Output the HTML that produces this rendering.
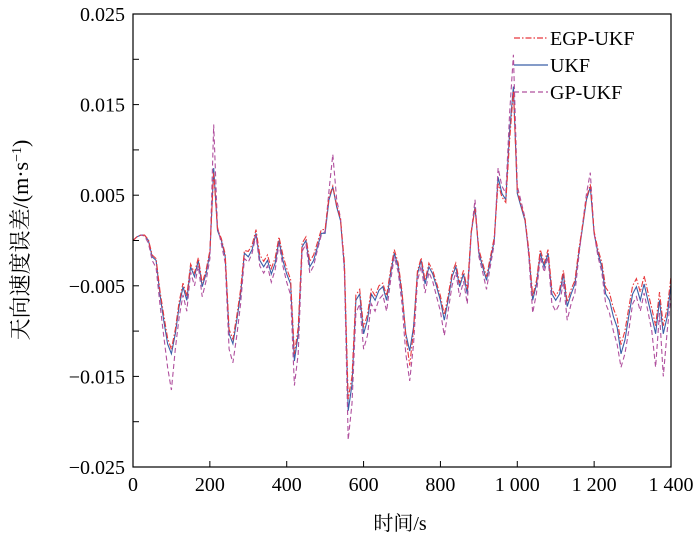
<!DOCTYPE html>
<html><head><meta charset="utf-8"><style>
body{margin:0;background:#fff}
svg{display:block;font-family:"Liberation Serif","Noto Serif CJK SC",serif}
</style></head><body>
<svg width="700" height="540" id="c">
<g id="plot"></g>
<g id="axes"></g>
<g id="legend">
 <g><line x1="514" y1="38" x2="548" y2="38" stroke="#e8383d" stroke-width="1.2" stroke-dasharray="6,2,1.5,2"/><text x="550" y="45" font-size="20">EGP-UKF</text></g>
 <g><line x1="514" y1="65" x2="548" y2="65" stroke="#3a5fa8" stroke-width="1.2"/><text x="550" y="72" font-size="20">UKF</text></g>
 <g><line x1="514" y1="92" x2="548" y2="92" stroke="#b0509e" stroke-width="1.2" stroke-dasharray="5,3"/><text x="550" y="99" font-size="20">GP-UKF</text></g>
</g>
<text x="400" y="530" font-size="20" text-anchor="middle">时间/s</text>
<text transform="translate(28,240) rotate(-90)" font-size="22" text-anchor="middle">天向速度误差/(m·s<tspan baseline-shift="super" font-size="14">−1</tspan>)</text>
</svg>
<script>
const xTicks=[0,200,400,600,800,1000,1200,1400];
const xTickLabels=["0","200","400","600","800","1 000","1 200","1 400"];
const yTicks=[0.025,0.02,0.015,0.01,0.005,0,-0.005,-0.01,-0.015,-0.02,-0.025];
const yTickLabels=["0.025","","0.015","","0.005","","−0.005","","−0.015","","−0.025"];
const step=10;
const ukf=[0,0.4,0.6,0.6,0,-1.8,-2.2,-5.9,-8.8,-11.4,-12.5,-10.3,-7.3,-5.1,-6.6,-2.9,-4,-2.2,-5.1,-3.7,-1.4,8,1.1,0,-1.8,-10.3,-11.4,-8.8,-5.9,-1.4,-1.8,-1,0.8,-2.2,-2.9,-2.2,-3.7,-2.5,0,-2.2,-3.7,-4.8,-13.3,-10.3,-0.7,0,-2.9,-2.2,-0.7,0.8,0.8,4.5,5.9,3.7,2.2,-2.9,-18.8,-15.9,-6.6,-5.9,-10.3,-8.8,-5.9,-6.6,-5.5,-5.1,-6.6,-3.7,-1.4,-2.9,-5.9,-10.3,-12.2,-9.6,-3.7,-2.2,-4.8,-2.9,-3.7,-5.1,-6.6,-8.8,-6.6,-4,-2.9,-5.1,-3.7,-5.9,0.8,3.7,-1.4,-2.9,-4.4,-2.2,0,7,5.2,4.5,12,17,5.2,3.7,2.2,-1.4,-6.6,-4.8,-1.4,-2.9,-1.4,-5.9,-6.6,-5.9,-3.7,-7.3,-5.9,-4.8,-1.4,1.5,4.5,5.9,0.8,-1.4,-2.9,-5.9,-6.6,-8.4,-9.6,-12.5,-11,-8.4,-5.9,-5.1,-6.6,-4.8,-6.6,-8.4,-10.3,-6.6,-10.3,-8.4,-4.8];
const gpukf=[0,0.4,0.6,0.5,-0.3,-2.2,-3,-7,-10.5,-14,-16.5,-12,-8.5,-6,-7.8,-3.5,-5,-2.8,-6.2,-4.5,-2,12.8,1.5,-0.4,-2.5,-12,-13.5,-10.5,-7,-2,-2.4,-1.4,0.6,-2.8,-3.6,-2.8,-4.6,-3.2,-0.4,-2.8,-4.6,-6,-16,-12.5,-1.2,-0.4,-3.6,-2.8,-1,0.6,1,5.5,9.5,4.5,2.5,-3.5,-22,-18,-8,-7,-12,-10.5,-7,-7.8,-6.5,-6,-7.8,-4.5,-1.8,-3.5,-7,-12.5,-15.5,-11.5,-4.5,-2.8,-5.8,-3.5,-4.5,-6.2,-7.8,-10.5,-7.8,-5,-3.5,-6.2,-4.5,-7,0.8,4.5,-1.8,-3.5,-5.4,-2.8,-0.4,8,6,5.2,14,20.5,6,4.3,2.5,-1.8,-8,-5.8,-1.8,-3.5,-1.8,-7,-7.8,-7,-4.5,-8.8,-7,-5.8,-1.8,1.8,5.2,7.5,0.8,-1.8,-3.5,-7,-8,-10,-11.5,-14,-12.5,-10,-7,-6.2,-7.8,-5.8,-7.8,-10,-14,-8,-15,-10,-6];
const egpukf=[0,0.4,0.6,0.6,0.1,-1.6,-2,-5.5,-8.2,-10.8,-12,-9.8,-6.8,-4.7,-6.1,-2.6,-3.6,-1.9,-4.7,-3.3,-1.1,7.5,1.3,0.2,-1.5,-9.8,-10.9,-8.3,-5.4,-1.1,-1.2,-0.5,1.2,-1.6,-2.3,-1.6,-3.1,-1.9,0.4,-1.6,-3.1,-4.3,-12.5,-9.6,-0.3,0.4,-2.3,-1.6,-0.2,1.2,1.2,4.8,6,3.9,2.4,-2.4,-17.5,-15,-6,-5.4,-9.6,-8.2,-5.4,-6.1,-5,-4.7,-6.1,-3.3,-1,-2.5,-5.6,-10.5,-13.8,-10,-3.4,-1.9,-4.4,-2.5,-3.3,-4.7,-6.1,-8.2,-6.1,-3.6,-2.5,-4.7,-3.3,-5.4,1,3.5,-1,-2.5,-4,-1.8,0.3,6.3,4.8,4.2,11,16.5,5.5,3.9,2.4,-1,-6.1,-4.4,-1,-2.5,-1,-5.4,-6.1,-5.4,-3.3,-6.8,-5.4,-4.4,-1,1.7,4.7,6.2,1,-1,-2.4,-5.2,-5.8,-7.5,-8.6,-11.5,-10,-7.5,-5,-4.2,-5.7,-3.9,-5.7,-7.5,-9.4,-5.7,-9.4,-7.5,-4];
const L=133,R=671,T=14,B=467;
const sx=t=>L+(t-0)/(1400-0)*(R-L);
const sy=v=>B-(v-(-0.025))/(0.05)*(B-T);
const NS="http://www.w3.org/2000/svg";
function mk(tag,attrs,parent){const e=document.createElementNS(NS,tag);for(const k in attrs)e.setAttribute(k,attrs[k]);parent.appendChild(e);return e;}
const plot=document.getElementById('plot'),axes=document.getElementById('axes');
function series(arr,color,dash,name){
  const pts=arr.map((v,i)=>sx(i*step).toFixed(1)+","+sy(v/1000).toFixed(1)).join(" ");
  const p=mk('polyline',{points:pts,fill:'none',stroke:color,'stroke-width':1.1},plot);
  if(dash)p.setAttribute('stroke-dasharray',dash);
  
  
}
series(ukf,'#3a5fa8',null,'series-ukf');
series(gpukf,'#b0509e','5,3','series-gp-ukf');
series(egpukf,'#e8383d','6,2,1.5,2','series-egp-ukf');
const fr=mk('rect',{x:L,y:T,width:R-L,height:B-T,fill:'none',stroke:'#000','stroke-width':1.2},axes);


xTicks.forEach((t,i)=>{
  const x=sx(t);
  const tk=mk('line',{x1:x,y1:B,x2:x,y2:B-6,stroke:'#000','stroke-width':1},axes);
  
  
  const tx=mk('text',{x:x,y:B+24,'font-size':20,'text-anchor':'middle'},axes);
  tx.textContent=xTickLabels[i];
  
  
});
yTicks.forEach((v,i)=>{
  const y=sy(v);
  const tk=mk('line',{x1:L,y1:y,x2:L+6,y2:y,stroke:'#000','stroke-width':1},axes);
  
  
  if(yTickLabels[i]){
    const tx=mk('text',{x:L-8,y:y+7,'font-size':20,'text-anchor':'end'},axes);
    tx.textContent=yTickLabels[i];
    
    
  }
});
</script>
</body></html>
